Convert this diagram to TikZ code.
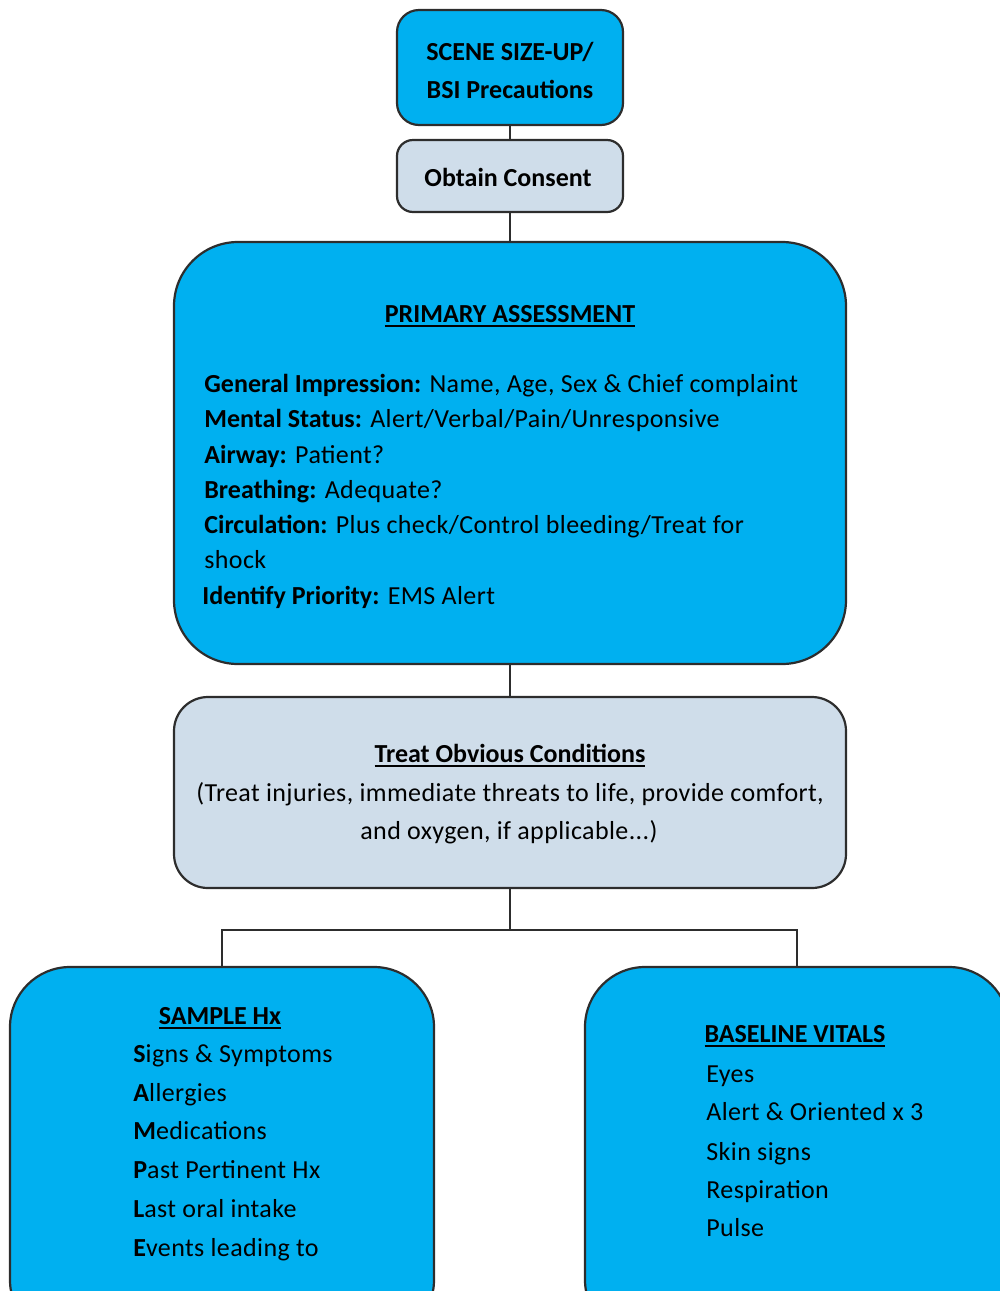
\documentclass[tikz,border=0pt]{standalone}
\usepackage{fontspec}
\setmainfont{Carlito}[LetterSpace=1.5, BoldFeatures={LetterSpace=0}]
\definecolor{boxcyan}{RGB}{0,176,240}
\definecolor{boxgrey}{RGB}{207,221,234}
\definecolor{boxedge}{RGB}{45,45,45}
\newcommand{\headline}[1]{\setbox0=\hbox{\bfseries #1}\rlap{\rule[-2.4pt]{\wd0}{1pt}}\box0}
\begin{document}
\begin{tikzpicture}[x=0.5pt,y=-0.5pt]
    \tikzstyle{every node}+=[inner sep=0pt]
    \tikzstyle{cyanbox}=[draw=boxedge, line width=1.1pt, fill=boxcyan]
    \tikzstyle{greybox}=[draw=boxedge, line width=1.1pt, fill=boxgrey]
    \tikzstyle{txt}=[font=\fontsize{13}{16}\selectfont, anchor=base]
    \tikzstyle{item}=[txt, anchor=base west]
    \tikzstyle{link}=[draw=boxedge, line width=1pt]
    \useasboundingbox (0,0) rectangle (1000,1291);
    \clip (0,0) rectangle (1000,1291);
    \node [cyanbox, rounded corners=11pt, minimum width=113pt, minimum height=57.5pt] (scene) at (510,67.5) {};
    \node [greybox, rounded corners=8pt, minimum width=113pt, minimum height=36pt] (consent) at (510,176) {};
    \node [cyanbox, rounded corners=32pt, minimum width=336pt, minimum height=211pt] (primary) at (510,453) {};
    \node [greybox, rounded corners=17pt, minimum width=336pt, minimum height=95.5pt] (treat) at (510,792.5) {};
    \node [cyanbox, rounded corners=30pt, minimum width=212pt, minimum height=186.5pt] (sample) at (222,1153.5) {};
    \node [cyanbox, rounded corners=30pt, minimum width=212pt, minimum height=186.5pt] (vitals) at (797,1153.5) {};
    \coordinate (split) at (510,930);
    \draw [link] (scene) -- (consent);
    \draw [link] (consent) -- (primary);
    \draw [link] (primary) -- (treat);
    \draw [link] (treat) -- (split);
    \draw [link] (sample.north) |- (split) -| (vitals.north);
    \node [txt] (scene1) at (510,60) {\textbf{SCENE SIZE-UP/}};
    \node [txt] (scene2) at (510,98) {\textbf{BSI Precautions}};
    \node [txt] (consent1) at (508,186) {\textbf{Obtain Consent}};
    \node [txt] (primary0) at (510,322) {\headline{PRIMARY ASSESSMENT}};
    \node [item] (primary1) at (204,392) {\textbf{General Impression:} Name, Age, Sex \& Chief complaint};
    \node [item] (primary2) at (204,427) {\textbf{Mental Status:} Alert/Verbal/Pain/Unresponsive};
    \node [item] (primary3) at (204,463) {\textbf{Airway:} Patient?};
    \node [item] (primary4) at (204,498) {\textbf{Breathing:} Adequate?};
    \node [item] (primary5) at (204,533) {\textbf{Circulation:} Plus check/Control bleeding/Treat for};
    \node [item] (primary6) at (204,568) {shock};
    \node [item] (primary7) at (202,604) {\textbf{Identify Priority:} EMS Alert};
    \node [txt] (treat0) at (510,762) {\headline{Treat Obvious Conditions}};
    \node [txt] (treat1) at (510,801) {(Treat injuries, immediate threats to life, provide comfort,};
    \node [txt] (treat2) at (509,839) {and oxygen, if applicable...)};
    \node [txt] (sample0) at (220,1024) {\headline{SAMPLE Hx}};
    \node [item] (sample1) at (133,1062) {\textbf{S}igns \& Symptoms};
    \node [item] (sample2) at (133,1101) {\textbf{A}llergies};
    \node [item] (sample3) at (133,1139) {\textbf{M}edications};
    \node [item] (sample4) at (133,1178) {\textbf{P}ast Pertinent Hx};
    \node [item] (sample5) at (133,1217) {\textbf{L}ast oral intake};
    \node [item] (sample6) at (133,1256) {\textbf{E}vents leading to};
    \node [txt] (vitals0) at (795,1042) {\headline{BASELINE VITALS}};
    \node [item] (vitals1) at (706,1082) {Eyes};
    \node [item] (vitals2) at (706,1120) {Alert \& Oriented x 3};
    \node [item] (vitals3) at (706,1160) {Skin signs};
    \node [item] (vitals4) at (706,1198) {Respiration};
    \node [item] (vitals5) at (706,1236) {Pulse};
\end{tikzpicture}
\end{document}
